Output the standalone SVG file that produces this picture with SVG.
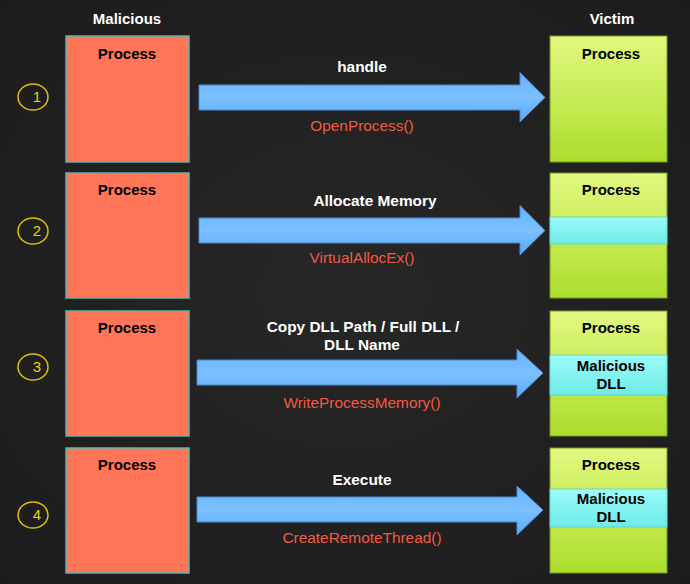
<svg xmlns="http://www.w3.org/2000/svg" width="690" height="584" viewBox="0 0 690 584">
<defs>
<linearGradient id="gv" x1="0" y1="0" x2="0" y2="1"><stop offset="0" stop-color="#e2f880"/><stop offset="1" stop-color="#acde2c"/></linearGradient>
<linearGradient id="gc" x1="0" y1="0" x2="0" y2="1"><stop offset="0" stop-color="#9cfcfc"/><stop offset="1" stop-color="#6eeae6"/></linearGradient>
<linearGradient id="ga" x1="0" y1="0" x2="0" y2="1"><stop offset="0" stop-color="#66b2ff"/><stop offset="0.5" stop-color="#7cc0ff"/><stop offset="1" stop-color="#5aa8f8"/></linearGradient>
<radialGradient id="bg" cx="0.5" cy="0.5" r="0.7"><stop offset="0" stop-color="#272727"/><stop offset="1" stop-color="#1c1c1c"/></radialGradient>
</defs>
<style>
.mal{fill:#ff7758;stroke:#5db3a5;stroke-width:1.5}
.vic{fill:url(#gv);stroke:#7a9a20;stroke-width:1}
.cy{fill:url(#gc);stroke:#5fcfc0;stroke-width:0.8}
.arr{fill:url(#ga);stroke:#4a8ad0;stroke-width:1}
.num{fill:none;stroke:#e0c000;stroke-width:1.5}
.nt{font-family:"Liberation Sans",Arial,sans-serif;font-size:15px;fill:#f0d000;text-anchor:middle}
.hd{font-family:"Liberation Sans",Arial,sans-serif;font-size:15px;font-weight:bold;fill:#ffffff;text-anchor:middle}
.pt{font-family:"Liberation Sans",Arial,sans-serif;font-size:15px;font-weight:bold;fill:#000000;text-anchor:middle}
.lb{font-family:"Liberation Sans",Arial,sans-serif;font-size:15.4px;font-weight:bold;fill:#ffffff;text-anchor:middle}
.fn{font-family:"Liberation Sans",Arial,sans-serif;font-size:15.4px;fill:#f05a40;text-anchor:middle}
</style>
<rect width="690" height="584" fill="url(#bg)"/>
<text class="hd" x="127" y="24">Malicious</text>
<text class="hd" x="612" y="24">Victim</text>

<g id="step1">
<ellipse class="num" cx="33" cy="97" rx="15" ry="13"/><text class="nt" x="37" y="102">1</text>
</g>
<g id="step2">
<ellipse class="num" cx="33" cy="231" rx="15" ry="13"/><text class="nt" x="37" y="236">2</text>
</g>
<g id="step3">
<ellipse class="num" cx="33" cy="367" rx="15" ry="13"/><text class="nt" x="37" y="372">3</text>
</g>
<g id="step4">
<ellipse class="num" cx="33" cy="515" rx="15" ry="13"/><text class="nt" x="37" y="520">4</text>
</g>

<g id="mal1"><rect class="mal" x="66" y="36" width="123" height="126"/><text class="pt" x="127" y="59">Process</text></g>
<g id="mal2"><rect class="mal" x="66" y="173" width="123" height="125"/><text class="pt" x="127" y="195">Process</text></g>
<g id="mal3"><rect class="mal" x="66" y="311" width="123" height="125"/><text class="pt" x="127" y="333">Process</text></g>
<g id="mal4"><rect class="mal" x="66" y="448" width="123" height="125"/><text class="pt" x="127" y="470">Process</text></g>

<g id="vic1"><rect class="vic" x="550" y="36" width="117" height="126"/><text class="pt" x="611" y="59">Process</text></g>
<g id="vic2"><rect class="vic" x="550" y="173" width="117" height="125"/><rect class="cy" x="550" y="217" width="117" height="27"/><text class="pt" x="611" y="195">Process</text></g>
<g id="vic3"><rect class="vic" x="550" y="311" width="117" height="125"/><rect class="cy" x="550" y="355" width="117" height="40"/><text class="pt" x="611" y="333">Process</text><text class="pt" x="611" y="371">Malicious</text><text class="pt" x="611" y="389">DLL</text></g>
<g id="vic4"><rect class="vic" x="550" y="448" width="117" height="125"/><rect class="cy" x="550" y="489" width="117" height="38"/><text class="pt" x="611" y="470">Process</text><text class="pt" x="611" y="504">Malicious</text><text class="pt" x="611" y="522">DLL</text></g>

<g id="connectors">
<path class="arr" d="M199,85 H520 V72.5 L545,97.5 L520,122 V110 H199 Z"/>
<path class="arr" d="M199,218 H520 V205.5 L545,230.5 L520,255 V243 H199 Z"/>
<path class="arr" d="M197,360 H517 V349 L543,373 L517,398 V385 H197 Z"/>
<path class="arr" d="M197,497 H517 V486 L543,510 L517,535 V522 H197 Z"/>
<text class="lb" x="362" y="72">handle</text>
<text class="fn" x="362" y="131">OpenProcess()</text>
<text class="lb" x="375" y="206">Allocate Memory</text>
<text class="fn" x="362" y="263">VirtualAllocEx()</text>
<text class="lb" x="363" y="332">Copy DLL Path / Full DLL /</text>
<text class="lb" x="362" y="350">DLL Name</text>
<text class="fn" x="362" y="408">WriteProcessMemory()</text>
<text class="lb" x="362" y="485">Execute</text>
<text class="fn" x="362" y="543">CreateRemoteThread()</text>
</g>
</svg>
